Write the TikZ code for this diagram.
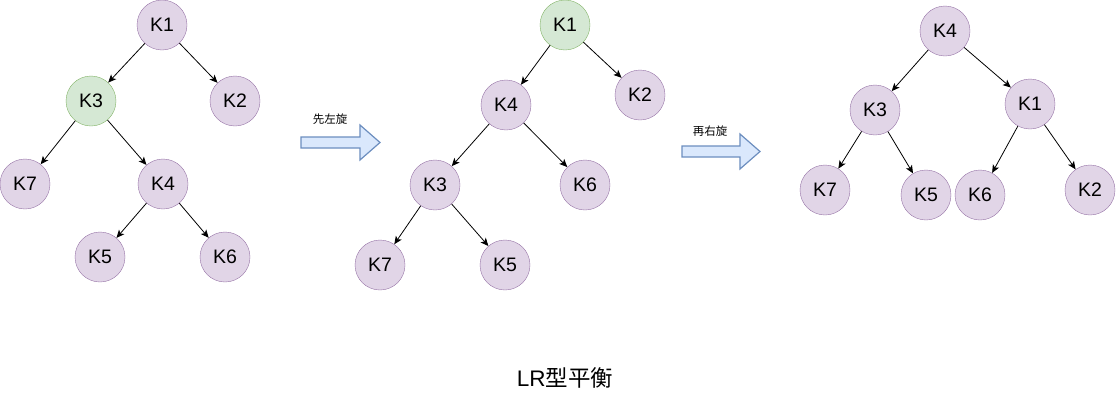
\documentclass[tikz,border=0pt]{standalone}
\usepackage{fontspec}
\setmainfont{Liberation Sans}
\newfontfamily\cjk{Noto Sans CJK SC}
\usetikzlibrary{arrows.meta}
\definecolor{kfill}{HTML}{E1D5E7}
\definecolor{kline}{HTML}{9673A6}
\definecolor{gfill}{HTML}{D5E8D4}
\definecolor{gline}{HTML}{82B366}
\definecolor{afill}{HTML}{DAE8FC}
\definecolor{aline}{HTML}{6C8EBF}
\tikzset{
  key/.style={circle, draw=kline, fill=kfill, minimum size=50pt, inner sep=0pt, font=\fontsize{19.5}{22}\selectfont},
  hot/.style={key, draw=gline, fill=gfill},
  link/.style={-{Stealth[length=8pt,width=7pt,inset=2pt]}, line width=0.8pt},
  turn/.style={draw=aline, fill=afill, line width=1.2pt, line join=miter},
}
\begin{document}
\begin{tikzpicture}[x=1pt, y=-1pt]
        \useasboundingbox (0,0) rectangle (1116,402);

        % first tree
        \node[key] (a1) at (162,25) {K1};
        \node[hot] (a3) at (91,101) {K3};
        \node[key] (a2) at (235,101) {K2};
        \node[key] (a7) at (25,184) {K7};
        \node[key] (a4) at (163,184) {K4};
        \node[key] (a5) at (100,257) {K5};
        \node[key] (a6) at (225,257) {K6};

        \draw[link] (a1) -- (a3);
        \draw[link] (a1) -- (a2);
        \draw[link] (a3) -- (a7);
        \draw[link] (a3) -- (a4);
        \draw[link] (a4) -- (a5);
        \draw[link] (a4) -- (a6);

        % left rotation
        \node[font=\cjk\fontsize{11.5}{13}\selectfont] (rot1) at (330,119) {先左旋};
        \draw[turn] (301,137) -- (360,137) -- (360,125) -- (380,142.5) -- (360,160) -- (360,148) -- (301,148) -- cycle;

        % second tree
        \node[hot] (b1) at (565,25) {K1};
        \node[key] (b4) at (506,105) {K4};
        \node[key] (b2) at (640,95) {K2};
        \node[key] (b3) at (435,185) {K3};
        \node[key] (b6) at (585,185) {K6};
        \node[key] (b7) at (380,265) {K7};
        \node[key] (b5) at (505,265) {K5};

        \draw[link] (b1) -- (b4);
        \draw[link] (b1) -- (b2);
        \draw[link] (b4) -- (b3);
        \draw[link] (b4) -- (b6);
        \draw[link] (b3) -- (b7);
        \draw[link] (b3) -- (b5);

        % right rotation
        \node[font=\cjk\fontsize{11.5}{13}\selectfont] (rot2) at (710,131) {再右旋};
        \draw[turn] (682,146) -- (740,146) -- (740,134) -- (760,151.5) -- (740,169) -- (740,157) -- (682,157) -- cycle;

        % third tree
        \node[key] (c4) at (945,31) {K4};
        \node[key] (c3) at (875,110) {K3};
        \node[key] (c1) at (1030,104) {K1};
        \node[key] (c7) at (825,190) {K7};
        \node[key] (c5) at (926,195) {K5};
        \node[key] (c6) at (980,195) {K6};
        \node[key] (c2) at (1090,190) {K2};

        \draw[link] (c4) -- (c3);
        \draw[link] (c4) -- (c1);
        \draw[link] (c3) -- (c7);
        \draw[link] (c3) -- (c5);
        \draw[link] (c1) -- (c6);
        \draw[link] (c1) -- (c2);

        \node[font=\fontsize{22.5}{26}\selectfont] (title) at (565,378) {LR{\cjk 型平衡}};
    \end{tikzpicture}
\end{document}
